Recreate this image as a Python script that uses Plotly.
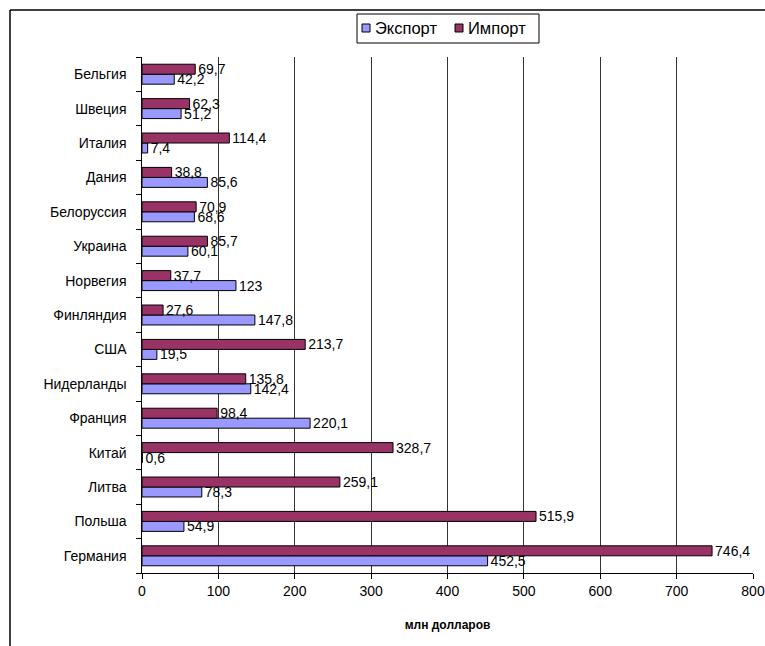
import plotly.graph_objects as go

countries = ["Германия", "Польша", "Литва", "Китай", "Франция", "Нидерланды", "США",
             "Финляндия", "Норвегия", "Украина", "Белоруссия", "Дания", "Италия",
             "Швеция", "Бельгия"]
export_vals = [452.5, 54.9, 78.3, 0.6, 220.1, 142.4, 19.5, 147.8, 123, 60.1, 68.6, 85.6, 7.4, 51.2, 42.2]
import_vals = [746.4, 515.9, 259.1, 328.7, 98.4, 135.8, 213.7, 27.6, 37.7, 85.7, 70.9, 38.8, 114.4, 62.3, 69.7]
x_ticks = [0, 100, 200, 300, 400, 500, 600, 700, 800]
series_names = ["Экспорт", "Импорт"]
series_colors = ["#9999FF", "#993366"]


def fmt(v):
    s = ("%g" % v)
    return s.replace(".", ",")


FONT = "Liberation Sans, Arial, sans-serif"

fig = go.Figure()
for name, vals, col in zip(series_names, [export_vals, import_vals], series_colors):
    fig.add_trace(go.Bar(
        y=countries, x=vals, orientation="h", name=name,
        marker=dict(color=col, line=dict(color="#000000", width=1)),
        text=[fmt(v) for v in vals], textposition="outside", constraintext="none",
        textfont=dict(family=FONT, size=14, color="#000000"), cliponaxis=False,
        showlegend=False,
    ))

W, H = 765, 646
L, R, T, B = 142, 12, 57, 73
pw, ph = W - L - R, H - T - B


def px_x(p):
    return (p - L) / pw


def px_y(p):
    return 1 - (p - T) / ph


fig.update_layout(
    width=W, height=H,
    margin=dict(l=L, r=R, t=T, b=B, pad=0, autoexpand=False),
    paper_bgcolor="white", plot_bgcolor="white",
    barmode="group", bargap=0.42, bargroupgap=0,
    font=dict(family=FONT, size=14, color="#000000"),
    showlegend=False,
    xaxis=dict(range=[0, 800], tickvals=x_ticks, ticktext=[str(t) for t in x_ticks],
               showgrid=True, gridcolor="#333333", gridwidth=1,
               showline=True, linecolor="#000000", linewidth=1,
               ticks="outside", ticklen=5, tickcolor="#000000", automargin=False,
               tickfont=dict(family=FONT, size=14), zeroline=False,
               title=dict(text="<b>млн долларов</b>", font=dict(family=FONT, size=12), standoff=22)),
    yaxis=dict(categoryorder="array", categoryarray=countries, automargin=False,
               showline=True, linecolor="#000000", linewidth=1,
               ticks="outside", ticklen=5, tickcolor="#000000", tickson="boundaries",
               tickfont=dict(family=FONT, size=14), showgrid=False, ticksuffix="   "),
)

# outer chart frame (cropped at right and bottom)
fig.add_shape(type="line", xref="paper", yref="paper",
              x0=px_x(10), x1=px_x(10), y0=px_y(10), y1=px_y(H + 5),
              line=dict(color="#000000", width=1.5))
fig.add_shape(type="line", xref="paper", yref="paper",
              x0=px_x(10), x1=px_x(W + 5), y0=px_y(10), y1=px_y(10),
              line=dict(color="#000000", width=1.5))

# legend box drawn by hand
fig.add_shape(type="rect", xref="paper", yref="paper",
              x0=px_x(357), x1=px_x(539), y0=px_y(14), y1=px_y(43),
              line=dict(color="#000000", width=1), fillcolor="white")
sq_x = [362, 455]
tx_x = [373, 466]
for i in range(2):
    fig.add_shape(type="rect", xref="paper", yref="paper",
                  x0=px_x(sq_x[i]), x1=px_x(sq_x[i] + 8), y0=px_y(24), y1=px_y(32),
                  line=dict(color="#000000", width=1), fillcolor=series_colors[i])
    fig.add_annotation(xref="paper", yref="paper", x=px_x(tx_x[i]), y=px_y(28.5),
                       xanchor="left", yanchor="middle", showarrow=False,
                       text=series_names[i], font=dict(family=FONT, size=16.5, color="#000000"))

fig.write_html("out.html", post_script="document.body.style.margin='0';",
               config={"displayModeBar": False})
